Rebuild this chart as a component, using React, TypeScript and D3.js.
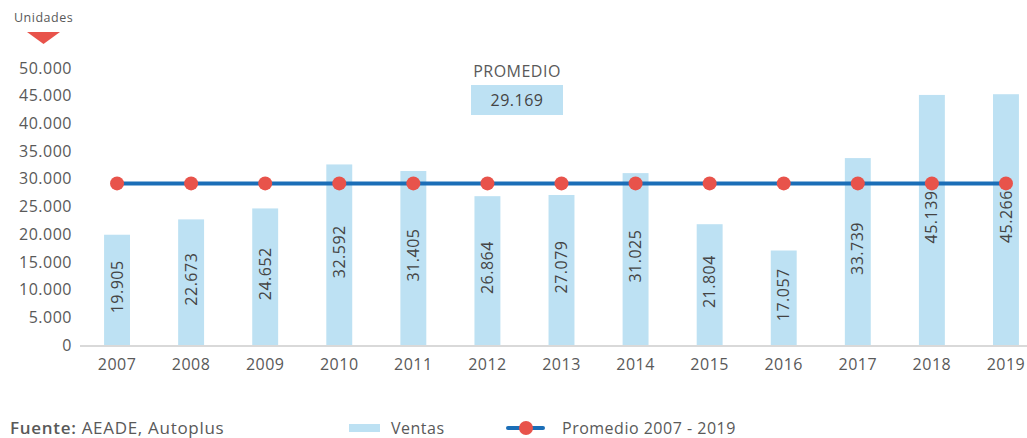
import React from 'react';
import * as d3 from 'd3';

const years = ['2007', '2008', '2009', '2010', '2011', '2012', '2013', '2014', '2015', '2016', '2017', '2018', '2019'];
const ventas = [19905, 22673, 24652, 32592, 31405, 26864, 27079, 31025, 21804, 17057, 33739, 45139, 45266];
const promedio = 29169;
const yTicks = [0, 5000, 10000, 15000, 20000, 25000, 30000, 35000, 40000, 45000, 50000];

const W = 1027;
const H = 438;
const FONT = "'Open Sans', 'Noto Sans', sans-serif";
const TXT = '#595959';
const LS = 0.5;

const fmt = (v: number) => d3.format(',')(v).replace(/,/g, '.');

const App = () => {
  const x = d3.scaleBand().domain(years).range([80, 1043]).paddingInner(0.65).paddingOuter(0.325);
  const y = d3.scaleLinear().domain([0, 50000]).range([345, 68]);
  const line = d3.line<string>()
    .x(d => (x(d) as number) + x.bandwidth() / 2)
    .y(() => y(promedio));

  return (
    <svg width={W} height={H} style={{ position: 'absolute', left: 0, top: 0 }} fontFamily={FONT} letterSpacing={LS}>
      {/* unidades */}
      <text x={14} y={22} fontSize={12.5} fill={TXT}>Unidades</text>
      <path d="M27,32 L60,32 L43.5,44 Z" fill="#E8534B" />

      {/* y ticks */}
      {yTicks.map(t => (
        <text key={t} x={72} y={y(t)} dy="0.35em" textAnchor="end" fontSize={16} fill={TXT}>{fmt(t)}</text>
      ))}

      {/* baseline */}
      <line x1={80} x2={W} y1={y(0) + 1} y2={y(0) + 1} stroke="#d9d9d9" strokeWidth={2} />

      {/* bars */}
      {years.map((yr, i) => (
        <rect key={yr} x={x(yr)} y={y(ventas[i])} width={x.bandwidth()} height={y(0) - y(ventas[i])} fill="#BDE1F3" />
      ))}

      {/* average line */}
      <path d={line(years) ?? ''} fill="none" stroke="#1B6EB7" strokeWidth={4} />
      {years.map(yr => (
        <circle key={yr} cx={(x(yr) as number) + x.bandwidth() / 2} cy={y(promedio)} r={7} fill="#E8534B" />
      ))}

      {/* bar labels */}
      {years.map((yr, i) => {
        const cx = (x(yr) as number) + x.bandwidth() / 2;
        const cy = (y(ventas[i]) + y(0)) / 2 - 3;
        return (
          <text key={yr} transform={`translate(${cx},${cy}) rotate(-90)`} textAnchor="middle" dy="0.35em" fontSize={16} fill="#444">
            {fmt(ventas[i])}
          </text>
        );
      })}

      {/* x labels */}
      {years.map(yr => (
        <text key={yr} x={(x(yr) as number) + x.bandwidth() / 2} y={370} textAnchor="middle" fontSize={16} fill={TXT}>{yr}</text>
      ))}

      {/* promedio box */}
      <text x={517} y={77} textAnchor="middle" fontSize={16} fill={TXT}>PROMEDIO</text>
      <rect x={471} y={85} width={92} height={30} fill="#BDE1F3" />
      <text x={517} y={100} dy="0.35em" textAnchor="middle" fontSize={16} fill="#444">{fmt(promedio)}</text>

      {/* source */}
      <text x={10} y={434} fontSize={17} fill={TXT} letterSpacing={0.7}>
        <tspan fontWeight={600}>Fuente:</tspan> AEADE, Autoplus
      </text>

      {/* legend */}
      <rect x={349} y={424} width={31} height={8} fill="#BDE1F3" />
      <text x={391} y={434} fontSize={16} fill={TXT}>Ventas</text>
      <line x1={508} x2={543} y1={428} y2={428} stroke="#1B6EB7" strokeWidth={4} strokeLinecap="round" />
      <circle cx={526} cy={428} r={7} fill="#E8534B" />
      <text x={562} y={434} fontSize={16} fill={TXT}>Promedio 2007  - 2019</text>
    </svg>
  );
};

export default App;
